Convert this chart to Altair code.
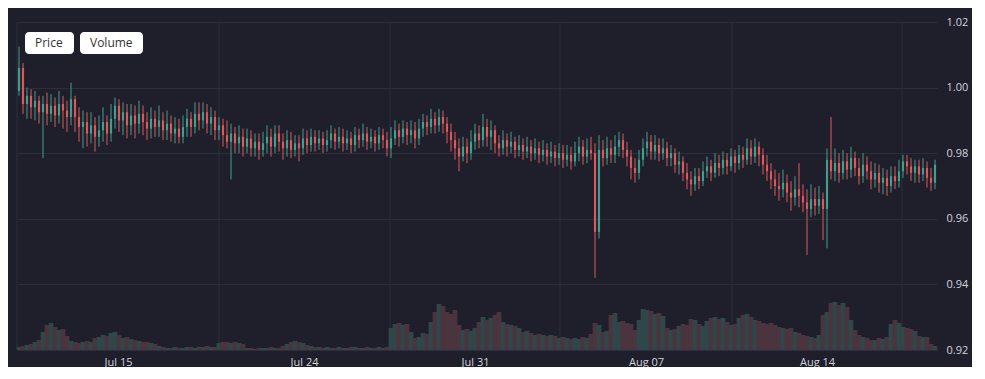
import altair as alt
import pandas as pd

# ---- data (prices in units of 0.0001) ----
opens = [
    9990, 10060, 9950, 9975, 9940, 9960, 9925, 9950, 9920, 9945,
    9915, 9950, 9930, 9910, 9965, 9910, 9880, 9895, 9860, 9885,
    9850, 9870, 9895, 9860, 9905, 9945, 9900, 9925, 9885, 9915,
    9890, 9920, 9895, 9875, 9905, 9880, 9900, 9870, 9890, 9860,
    9875, 9850, 9880, 9905, 9880, 9920, 9900, 9925, 9890, 9910,
    9870, 9885, 9855, 9835, 9860, 9830, 9850, 9820, 9845, 9815,
    9835, 9810, 9830, 9850, 9820, 9860, 9835, 9815, 9840, 9810,
    9830, 9815, 9845, 9825, 9850, 9830, 9845, 9825, 9840, 9860,
    9835, 9850, 9830, 9845, 9825, 9855, 9840, 9860, 9835, 9850,
    9830, 9855, 9840, 9815, 9845, 9870, 9850, 9875, 9855, 9870,
    9845, 9875, 9895, 9880, 9905, 9885, 9910, 9890, 9865, 9840,
    9815, 9790, 9820, 9800, 9835, 9860, 9840, 9880, 9850, 9870,
    9830, 9815, 9840, 9820, 9835, 9810, 9825, 9805, 9820, 9800,
    9815, 9795, 9810, 9790, 9805, 9785, 9800, 9780, 9795, 9775,
    9800, 9820, 9790, 9810, 9800, 9560, 9810, 9785, 9815, 9795,
    9820, 9840, 9810, 9790, 9755, 9740, 9780, 9815, 9835, 9805,
    9825, 9800, 9815, 9785, 9800, 9765, 9775, 9740, 9720, 9705,
    9730, 9715, 9745, 9760, 9740, 9770, 9755, 9780, 9760, 9790,
    9770, 9795, 9780, 9815, 9790, 9820, 9795, 9765, 9745, 9720,
    9700, 9690, 9710, 9680, 9665, 9690, 9670, 9650, 9630, 9660,
    9640, 9660, 9630, 9780, 9745, 9770, 9740, 9775, 9750, 9785,
    9755, 9730, 9765, 9745, 9720, 9740, 9710, 9725, 9700, 9730,
    9715, 9745, 9775, 9760, 9740, 9760, 9735, 9755, 9725, 9710,
]
closes = [
    10060, 9950, 9975, 9940, 9960, 9925, 9950, 9920, 9945, 9915,
    9950, 9930, 9910, 9965, 9910, 9880, 9895, 9860, 9885, 9850,
    9870, 9895, 9860, 9905, 9945, 9900, 9925, 9885, 9915, 9890,
    9920, 9895, 9875, 9905, 9880, 9900, 9870, 9890, 9860, 9875,
    9850, 9880, 9905, 9880, 9920, 9900, 9925, 9890, 9910, 9870,
    9885, 9855, 9835, 9860, 9830, 9850, 9820, 9845, 9815, 9835,
    9810, 9830, 9850, 9820, 9860, 9835, 9815, 9840, 9810, 9830,
    9815, 9845, 9825, 9850, 9830, 9845, 9825, 9840, 9860, 9835,
    9850, 9830, 9845, 9825, 9855, 9840, 9860, 9835, 9850, 9830,
    9855, 9840, 9815, 9845, 9870, 9850, 9875, 9855, 9870, 9845,
    9875, 9895, 9880, 9905, 9885, 9910, 9890, 9865, 9840, 9815,
    9790, 9820, 9800, 9835, 9860, 9840, 9880, 9850, 9870, 9830,
    9815, 9840, 9820, 9835, 9810, 9825, 9805, 9820, 9800, 9815,
    9795, 9810, 9790, 9805, 9785, 9800, 9780, 9795, 9775, 9800,
    9820, 9790, 9810, 9800, 9560, 9810, 9785, 9815, 9795, 9820,
    9840, 9810, 9790, 9755, 9740, 9780, 9815, 9835, 9805, 9825,
    9800, 9815, 9785, 9800, 9765, 9775, 9740, 9720, 9705, 9730,
    9715, 9745, 9760, 9740, 9770, 9755, 9780, 9760, 9790, 9770,
    9795, 9780, 9815, 9790, 9820, 9795, 9765, 9745, 9720, 9700,
    9690, 9710, 9680, 9665, 9690, 9670, 9650, 9630, 9660, 9640,
    9660, 9630, 9780, 9745, 9770, 9740, 9775, 9750, 9785, 9755,
    9730, 9765, 9745, 9720, 9740, 9710, 9725, 9700, 9730, 9715,
    9745, 9775, 9760, 9740, 9760, 9735, 9755, 9725, 9710, 9765,
]
highs = [
    10125, 10075, 10000, 9995, 9990, 9975, 9975, 9985, 9980, 9970,
    9990, 9975, 9960, 10015, 9975, 9940, 9930, 9925, 9925, 9910,
    9915, 9940, 9915, 9950, 9970, 9965, 9955, 9950, 9950, 9945,
    9960, 9945, 9925, 9940, 9930, 9945, 9925, 9930, 9915, 9910,
    9905, 9915, 9935, 9925, 9955, 9955, 9955, 9950, 9940, 9930,
    9910, 9905, 9900, 9890, 9880, 9885, 9875, 9875, 9870, 9860,
    9860, 9865, 9885, 9875, 9885, 9885, 9860, 9870, 9865, 9855,
    9855, 9875, 9870, 9875, 9870, 9870, 9865, 9870, 9885, 9875,
    9880, 9875, 9870, 9865, 9880, 9875, 9890, 9880, 9875, 9870,
    9880, 9875, 9865, 9880, 9900, 9890, 9900, 9895, 9900, 9895,
    9905, 9920, 9915, 9935, 9925, 9935, 9930, 9910, 9890, 9865,
    9845, 9850, 9845, 9870, 9890, 9885, 9920, 9905, 9900, 9885,
    9855, 9870, 9860, 9865, 9850, 9855, 9845, 9850, 9840, 9845,
    9835, 9840, 9830, 9835, 9825, 9830, 9825, 9825, 9820, 9835,
    9850, 9840, 9845, 9850, 9830, 9855, 9840, 9850, 9840, 9855,
    9865, 9860, 9835, 9810, 9785, 9810, 9845, 9865, 9855, 9855,
    9845, 9845, 9835, 9825, 9815, 9805, 9790, 9770, 9745, 9755,
    9755, 9775, 9790, 9780, 9800, 9795, 9805, 9800, 9815, 9810,
    9825, 9820, 9845, 9840, 9845, 9835, 9815, 9795, 9770, 9750,
    9740, 9750, 9735, 9715, 9730, 9770, 9705, 9690, 9705, 9695,
    9700, 9680, 9815, 9910, 9815, 9800, 9810, 9800, 9820, 9805,
    9785, 9800, 9790, 9775, 9770, 9765, 9755, 9750, 9760, 9760,
    9780, 9795, 9795, 9785, 9780, 9780, 9785, 9775, 9755, 9780,
]
lows = [
    9975, 9920, 9905, 9905, 9900, 9890, 9785, 9885, 9895, 9880,
    9890, 9875, 9865, 9885, 9865, 9835, 9815, 9820, 9830, 9805,
    9820, 9835, 9825, 9835, 9875, 9865, 9855, 9845, 9855, 9845,
    9860, 9855, 9840, 9845, 9850, 9850, 9840, 9840, 9835, 9830,
    9830, 9830, 9850, 9850, 9860, 9870, 9875, 9860, 9855, 9840,
    9840, 9820, 9815, 9720, 9800, 9800, 9790, 9800, 9790, 9790,
    9780, 9790, 9800, 9790, 9800, 9805, 9780, 9790, 9785, 9790,
    9775, 9795, 9800, 9805, 9805, 9810, 9800, 9805, 9815, 9810,
    9815, 9805, 9810, 9800, 9805, 9815, 9820, 9810, 9815, 9805,
    9810, 9815, 9790, 9785, 9825, 9820, 9830, 9825, 9830, 9815,
    9825, 9850, 9855, 9860, 9860, 9865, 9860, 9830, 9805, 9780,
    9745, 9775, 9770, 9780, 9810, 9815, 9820, 9820, 9810, 9800,
    9790, 9795, 9790, 9800, 9785, 9790, 9780, 9785, 9775, 9780,
    9770, 9775, 9765, 9770, 9760, 9765, 9755, 9760, 9750, 9760,
    9775, 9765, 9770, 9780, 9420, 9540, 9760, 9765, 9770, 9770,
    9790, 9785, 9760, 9720, 9710, 9720, 9760, 9790, 9780, 9780,
    9775, 9780, 9760, 9760, 9740, 9735, 9715, 9690, 9670, 9685,
    9690, 9700, 9725, 9715, 9725, 9730, 9735, 9735, 9745, 9740,
    9750, 9755, 9765, 9765, 9770, 9760, 9735, 9715, 9690, 9670,
    9655, 9665, 9650, 9625, 9640, 9635, 9620, 9490, 9605, 9610,
    9615, 9535, 9510, 9720, 9715, 9710, 9720, 9720, 9725, 9730,
    9705, 9710, 9720, 9690, 9695, 9680, 9675, 9670, 9680, 9690,
    9695, 9725, 9735, 9715, 9710, 9710, 9715, 9695, 9685, 9690,
]
# volume in millions
volumes = [
    0.3, 0.4, 0.5, 0.6, 0.8, 1.0, 1.8, 2.5, 2.7, 2.3,
    2.0, 2.1, 1.4, 0.9, 0.8, 0.7, 0.8, 0.9, 0.8, 1.2,
    1.3, 1.5, 1.4, 1.7, 1.8, 1.5, 1.2, 1.3, 1.1, 1.0,
    0.9, 0.8, 0.8, 0.7, 0.6, 0.4, 0.3, 0.2, 0.2, 0.3,
    0.2, 0.2, 0.3, 0.3, 0.2, 0.3, 0.3, 0.4, 0.3, 0.3,
    0.7, 0.8, 0.8, 0.7, 0.8, 0.7, 0.6, 0.2, 0.2, 0.1,
    0.2, 0.2, 0.2, 0.3, 0.2, 0.2, 0.4, 0.6, 0.8, 0.9,
    0.8, 0.7, 0.5, 0.4, 0.3, 0.3, 0.2, 0.3, 0.2, 0.2,
    0.3, 0.2, 0.2, 0.3, 0.3, 0.2, 0.2, 0.3, 0.2, 0.2,
    0.3, 0.2, 0.3, 2.2, 2.6, 2.7, 2.5, 2.6, 1.8, 1.2,
    1.3, 1.7, 1.6, 2.8, 3.8, 4.6, 4.4, 3.8, 3.6, 4.0,
    2.5, 2.0, 2.1, 1.9, 2.2, 2.8, 3.3, 3.0, 3.2, 3.5,
    3.8, 2.8, 2.6, 2.5, 2.4, 2.2, 1.8, 1.9, 1.7, 1.5,
    1.6, 1.5, 1.4, 1.5, 1.4, 1.2, 1.3, 1.2, 1.1, 1.2,
    1.1, 1.3, 1.2, 1.6, 2.7, 2.5, 1.8, 1.9, 3.5, 3.7,
    2.8, 2.9, 2.7, 2.6, 2.0, 3.0, 4.1, 4.0, 3.9, 3.6,
    3.7, 3.4, 2.2, 2.0, 2.1, 2.4, 2.6, 2.5, 3.1, 3.0,
    2.6, 2.4, 2.9, 3.2, 3.3, 3.1, 3.2, 2.8, 2.5, 2.6,
    3.2, 3.5, 3.6, 3.3, 3.0, 2.9, 2.7, 2.6, 2.7, 2.5,
    2.3, 2.2, 2.1, 2.2, 1.8, 1.7, 1.5, 1.4, 1.3, 1.2,
    1.5, 3.5, 3.8, 4.7, 4.8, 4.5, 4.7, 4.3, 3.0, 2.0,
    1.5, 1.3, 1.2, 1.0, 1.0, 1.2, 1.1, 1.3, 2.6, 3.0,
    2.7, 2.3, 2.2, 2.1, 1.9, 1.4, 1.3, 1.3, 0.6, 0.4,
]

# time axis (candle index positions of the date labels and of grid lines)
tick_pos = [24.75, 71.25, 114.0, 156.75, 199.5]
tick_labels = ["Jul 15", "Jul 24", "Jul 31", "Aug 07", "Aug 14"]
grid_pos = [-0.5, 50.0, 92.75, 135.25, 178.25, 220.75]
price_ticks = [0.92, 0.94, 0.96, 0.98, 1.00, 1.02]
buttons = ["Price", "Volume"]

N = len(closes)
df = pd.DataFrame({
    "i": list(range(N)),
    "open": [v / 10000 for v in opens],
    "close": [v / 10000 for v in closes],
    "high": [v / 10000 for v in highs],
    "low": [v / 10000 for v in lows],
    "volume": volumes,
})
df["dir"] = ["up" if c >= o else "down" for o, c in zip(df["open"], df["close"])]
grid_df = pd.DataFrame({"g": grid_pos})

BG = "#1e1f2b"
GRID = "#2d2e3b"
TEXT = "#d1d4dc"
UP = "#429e8c"
DOWN = "#dc585c"
UP_VOL = "#2f4749"
DOWN_VOL = "#4b3340"
FONT = "Open Sans"

W, H = 920, 328
xscale = alt.Scale(domain=[-0.5, N - 0.5], nice=False, zero=False, padding=0)
yscale = alt.Scale(domain=[0.92, 1.02], nice=False, zero=False)
color = alt.Color("dir:N", scale=alt.Scale(domain=["up", "down"], range=[UP, DOWN]), legend=None)
vcolor = alt.Color("dir:N", scale=alt.Scale(domain=["up", "down"], range=[UP_VOL, DOWN_VOL]),
                   legend=None)

label_expr = " : ".join(
    f"abs(datum.value - {p}) < 0.01 ? '{t}'" for p, t in zip(tick_pos, tick_labels)
) + " : ''"
xaxis = alt.Axis(values=tick_pos, labelExpr=label_expr, grid=False, domain=False, ticks=False,
                 labelColor=TEXT, labelFont=FONT, labelFontSize=11, labelPadding=6,
                 labelOverlap=False, title=None)
yaxis = alt.Axis(values=price_ticks, format=".2f", orient="right", grid=True, gridColor=GRID,
                 domain=False, ticks=False, labelColor=TEXT, labelFont=FONT, labelFontSize=11,
                 labelPadding=9, labelOverlap=False, title=None)

vgrid = alt.Chart(grid_df).mark_rule(color=GRID, strokeWidth=1).encode(
    x=alt.X("g:Q", scale=xscale, axis=xaxis),
    y=alt.value(0), y2=alt.value(H),
)

vol = alt.Chart(df).mark_bar(stroke=None).transform_calculate(
    x0="datum.i - 0.6", x1="datum.i + 0.6"
).encode(
    x=alt.X("x0:Q", scale=xscale, axis=xaxis),
    x2="x1:Q",
    y=alt.Y("volume:Q", scale=alt.Scale(domain=[0, 32.8], nice=False), axis=None),
    y2=alt.datum(0),
    color=vcolor,
)

wick = alt.Chart(df).mark_rule(strokeWidth=1).encode(
    x=alt.X("i:Q", scale=xscale, axis=xaxis),
    y=alt.Y("low:Q", scale=yscale, axis=yaxis),
    y2="high:Q",
    color=color,
)
body = alt.Chart(df).mark_bar(stroke=None).transform_calculate(
    b0="datum.i - 0.27", b1="datum.i + 0.27"
).encode(
    x=alt.X("b0:Q", scale=xscale, axis=xaxis),
    x2="b1:Q",
    y=alt.Y("open:Q", scale=yscale, axis=yaxis),
    y2="close:Q",
    color=color,
)
price = alt.layer(wick, body)

btn1 = alt.Chart(pd.DataFrame({"t": [buttons[0]]})).mark_rect(
    fill="white", cornerRadius=4).encode(
    x=alt.value(8), x2=alt.value(57), y=alt.value(10), y2=alt.value(32))
btn2 = alt.Chart(pd.DataFrame({"t": [buttons[1]]})).mark_rect(
    fill="white", cornerRadius=4).encode(
    x=alt.value(63), x2=alt.value(126), y=alt.value(10), y2=alt.value(32))
txt1 = alt.Chart(pd.DataFrame({"t": [buttons[0]]})).mark_text(
    align="left", baseline="middle", font=FONT, fontSize=12, color="#333333").encode(
    x=alt.value(18), y=alt.value(21), text="t:N")
txt2 = alt.Chart(pd.DataFrame({"t": [buttons[1]]})).mark_text(
    align="left", baseline="middle", font=FONT, fontSize=12, color="#333333").encode(
    x=alt.value(73), y=alt.value(21), text="t:N")

chart = alt.layer(vgrid, vol, price, btn1, btn2, txt1, txt2).resolve_scale(
    y="independent", color="independent"
).properties(
    width=W, height=H,
    padding={"left": 8, "top": 8, "right": 4, "bottom": 0},
    background=BG,
).configure_view(stroke=None, fill=BG)

chart.save("out.html", embed_options={"renderer": "svg", "actions": False})
